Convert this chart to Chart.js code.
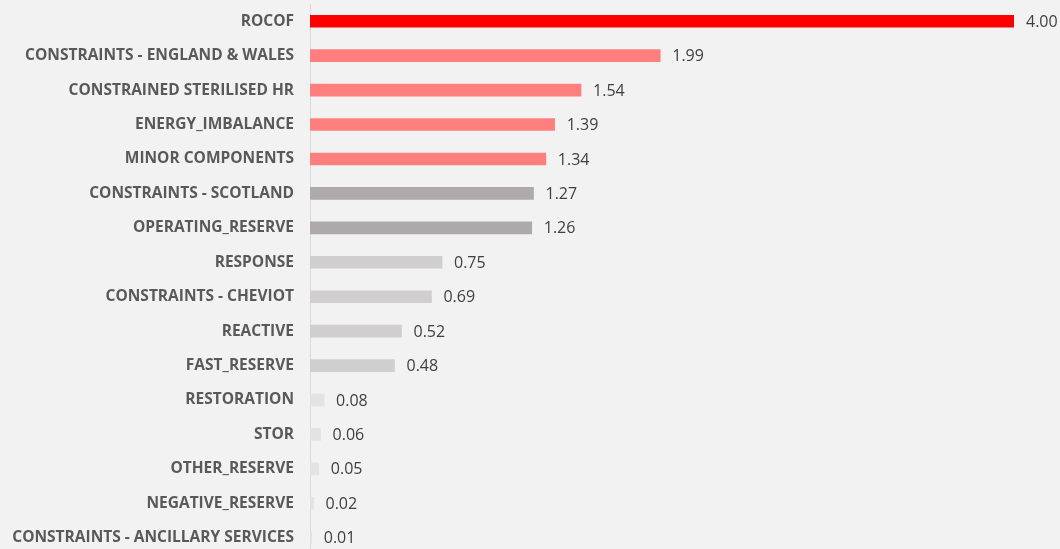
<!DOCTYPE html>
<html>
<head>
<meta charset="utf-8">
<script src="https://cdn.jsdelivr.net/npm/chart.js@4/dist/chart.umd.min.js"></script>
<style>
html,body{margin:0;padding:0;background:#f2f2f2;overflow:hidden;}
#wrap{position:relative;width:1060px;height:560px;}
</style>
</head>
<body>
<div id="wrap"><canvas id="c" width="1060" height="560"></canvas></div>
<script>
const categories = [
  "ROCOF",
  "CONSTRAINTS - ENGLAND & WALES",
  "CONSTRAINED STERILISED HR",
  "ENERGY_IMBALANCE",
  "MINOR COMPONENTS",
  "CONSTRAINTS - SCOTLAND",
  "OPERATING_RESERVE",
  "RESPONSE",
  "CONSTRAINTS - CHEVIOT",
  "REACTIVE",
  "FAST_RESERVE",
  "RESTORATION",
  "STOR",
  "OTHER_RESERVE",
  "NEGATIVE_RESERVE",
  "CONSTRAINTS - ANCILLARY SERVICES"
];
const values = [4.00, 1.99, 1.54, 1.39, 1.34, 1.27, 1.26, 0.75, 0.69, 0.52, 0.48, 0.08, 0.06, 0.05, 0.02, 0.01];
const barColors = [
  "#ff0000",
  "#ff7f7f", "#ff7f7f", "#ff7f7f", "#ff7f7f",
  "#aeaaaa", "#aeaaaa",
  "#d0cece", "#d0cece", "#d0cece", "#d0cece",
  "#e4e3e3", "#e4e3e3", "#e4e3e3", "#e4e3e3", "#e4e3e3"
];

const valueLabels = {
  id: 'valueLabels',
  afterDatasetsDraw(chart) {
    const ctx = chart.ctx;
    const meta = chart.getDatasetMeta(0);
    ctx.save();
    ctx.font = '400 16px "Open Sans", sans-serif';
    ctx.fillStyle = '#404040';
    ctx.textAlign = 'left';
    ctx.textBaseline = 'middle';
    meta.data.forEach((bar, i) => {
      ctx.fillText(values[i].toFixed(2), bar.x + 12, bar.y + 1);
    });
    ctx.restore();
  }
};

new Chart(document.getElementById('c'), {
  type: 'bar',
  data: {
    labels: categories,
    datasets: [{
      data: values,
      backgroundColor: barColors,
      borderWidth: 0,
      barThickness: 12
    }]
  },
  options: {
    indexAxis: 'y',
    responsive: false,
    animation: false,
    layout: { padding: { top: 4, bottom: 5, right: 46, left: 0 } },
    plugins: { legend: { display: false }, tooltip: { enabled: false } },
    scales: {
      x: {
        display: false,
        min: 0,
        max: 4
      },
      y: {
        afterFit(s) { s.width = 310; s.paddingTop = 0; s.paddingBottom = 0; },
        grid: { display: false, drawTicks: false },
        border: { display: true, color: '#d9d9d9', width: 1 },
        ticks: {
          padding: 16,
          color: '#595959',
          font: { family: '"Open Sans", sans-serif', size: 15.5, weight: '700' }
        }
      }
    }
  },
  plugins: [valueLabels]
});
</script>
</body>
</html>
